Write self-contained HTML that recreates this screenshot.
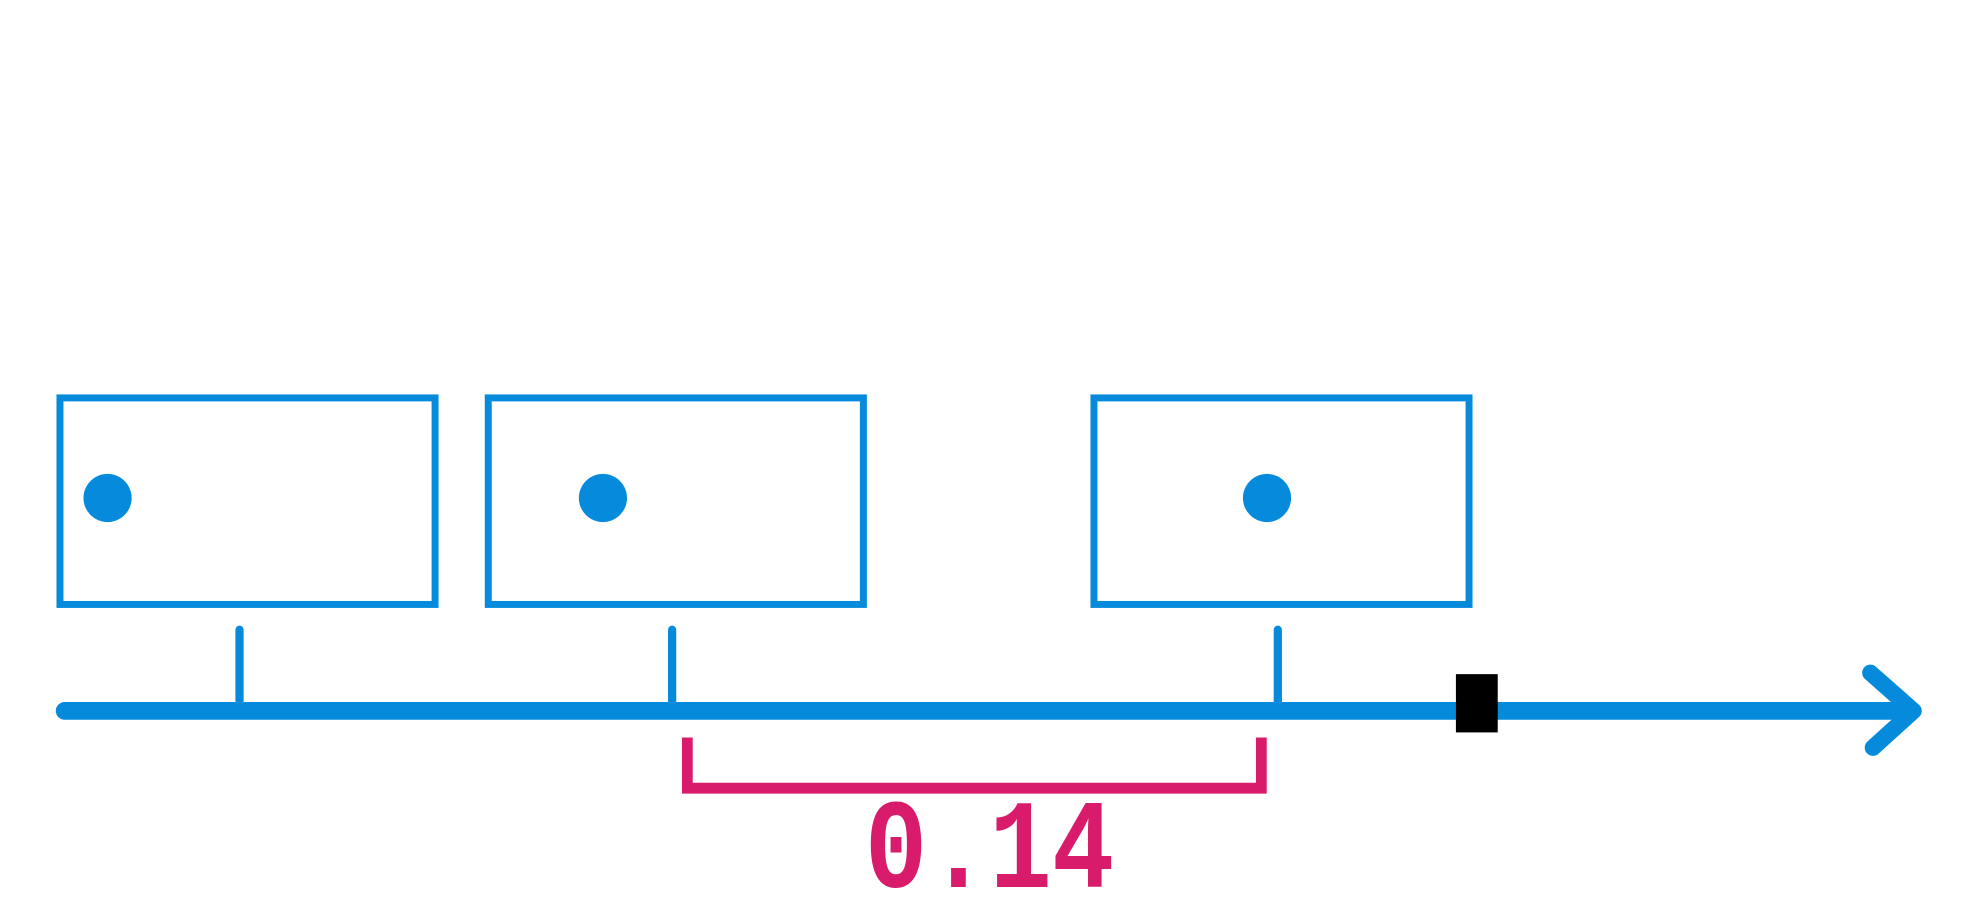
<!DOCTYPE html>
<html><head><meta charset="utf-8"><style>html,body{margin:0;padding:0;background:#fff;}svg{display:block}</style></head>
<body>
<svg id="chart" width="1987" height="913" viewBox="0 0 1568 720.5" preserveAspectRatio="none" xmlns="http://www.w3.org/2000/svg">
<g id="g"></g>
</svg>
<script>
const sampleValues = [0, 0.10, 0.24];
const markerValue = 0.286;
const bracketLabel = "0.14";
const boxLefts = [-0.0415, 0.0575, 0.1975];
const dotValues = [-0.0305, 0.084, 0.2375];
const NS = "http://www.w3.org/2000/svg";
const g = document.getElementById('g');
const x0 = 189, pxPerUnit = 3414;
function xs(v){ return x0 + v * pxPerUnit; }
function mk(tag, attrs){ const e=document.createElementNS(NS,tag); for(const k in attrs) e.setAttribute(k,attrs[k]); g.appendChild(e); return e; }
const blue = "#068bdc", mag = "#d81b6a";
boxLefts.forEach((b,i)=>{
  const r = mk('rect',{x:xs(b),y:314,width:296,height:163,fill:'none',stroke:blue,'stroke-width':5.5});
  
  
});
dotValues.forEach((d,i)=>{
  const c = mk('circle',{cx:xs(d),cy:393,r:19,fill:blue});
  
  
});
const axis = mk('line',{x1:51,y1:561,x2:1508,y2:561,stroke:blue,'stroke-width':14,'stroke-linecap':'round'});


const head = mk('polyline',{points:'1476,531 1510,561 1478,590',fill:'none',stroke:blue,'stroke-width':13,'stroke-linecap':'round','stroke-linejoin':'round'});


sampleValues.forEach((v,i)=>{
  const t = mk('line',{x1:xs(v),y1:497,x2:xs(v),y2:561,stroke:blue,'stroke-width':6.5,'stroke-linecap':'round'});
  
  
});
const m = mk('rect',{x:xs(markerValue)-16.5,y:532,width:33,height:46,fill:'#000'});


const bl = xs(sampleValues[1])+12, br = xs(sampleValues[2])-13;
const br1 = mk('polyline',{points:`${bl},582 ${bl},622 ${br},622 ${br},582`,fill:'none',stroke:mag,'stroke-width':8.5});


const cx = (bl+br)/2 + 12;
const tx = mk('text',{x:cx,y:700,'text-anchor':'middle',fill:mag,'font-family':'"Liberation Mono", monospace','font-weight':'bold','font-size':82,transform:`translate(0,700) scale(1,1.22) translate(0,-700)`});
tx.textContent = bracketLabel;


</script>
</body></html>
